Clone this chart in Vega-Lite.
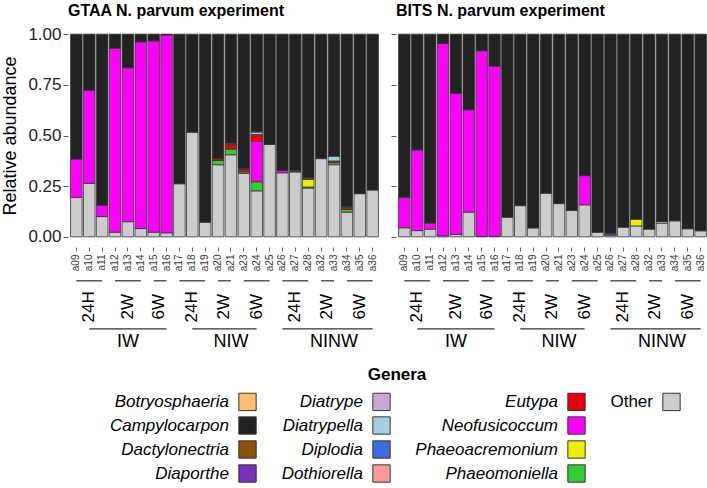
{
  "$schema": "https://vega.github.io/schema/vega-lite/v6.json",
  "padding": {"left": 1, "top": 3, "right": 0, "bottom": 0},
  "bounds": "flush",
  "spacing": 15,
  "datasets": {
    "bars": [
      {"exp":"GTAA","sample":"a09","genus":"Other","value":0.195},{"exp":"GTAA","sample":"a09","genus":"Neofusicoccum","value":0.189},{"exp":"GTAA","sample":"a09","genus":"Campylocarpon","value":0.616},
      {"exp":"GTAA","sample":"a10","genus":"Other","value":0.264},{"exp":"GTAA","sample":"a10","genus":"Neofusicoccum","value":0.46},{"exp":"GTAA","sample":"a10","genus":"Campylocarpon","value":0.276},
      {"exp":"GTAA","sample":"a11","genus":"Other","value":0.1},{"exp":"GTAA","sample":"a11","genus":"Neofusicoccum","value":0.056},{"exp":"GTAA","sample":"a11","genus":"Campylocarpon","value":0.844},
      {"exp":"GTAA","sample":"a12","genus":"Other","value":0.023},{"exp":"GTAA","sample":"a12","genus":"Neofusicoccum","value":0.907},{"exp":"GTAA","sample":"a12","genus":"Campylocarpon","value":0.07},
      {"exp":"GTAA","sample":"a13","genus":"Other","value":0.075},{"exp":"GTAA","sample":"a13","genus":"Neofusicoccum","value":0.759},{"exp":"GTAA","sample":"a13","genus":"Campylocarpon","value":0.166},
      {"exp":"GTAA","sample":"a14","genus":"Other","value":0.041},{"exp":"GTAA","sample":"a14","genus":"Neofusicoccum","value":0.921},{"exp":"GTAA","sample":"a14","genus":"Campylocarpon","value":0.038},
      {"exp":"GTAA","sample":"a15","genus":"Other","value":0.023},{"exp":"GTAA","sample":"a15","genus":"Neofusicoccum","value":0.944},{"exp":"GTAA","sample":"a15","genus":"Campylocarpon","value":0.033},
      {"exp":"GTAA","sample":"a16","genus":"Other","value":0.02},{"exp":"GTAA","sample":"a16","genus":"Neofusicoccum","value":0.975},{"exp":"GTAA","sample":"a16","genus":"Campylocarpon","value":0.005},
      {"exp":"GTAA","sample":"a17","genus":"Other","value":0.262},{"exp":"GTAA","sample":"a17","genus":"Campylocarpon","value":0.738},
      {"exp":"GTAA","sample":"a18","genus":"Other","value":0.516},{"exp":"GTAA","sample":"a18","genus":"Campylocarpon","value":0.484},
      {"exp":"GTAA","sample":"a19","genus":"Other","value":0.072},{"exp":"GTAA","sample":"a19","genus":"Campylocarpon","value":0.928},
      {"exp":"GTAA","sample":"a20","genus":"Other","value":0.356},{"exp":"GTAA","sample":"a20","genus":"Phaeomoniella","value":0.021},{"exp":"GTAA","sample":"a20","genus":"Eutypa","value":0.01},{"exp":"GTAA","sample":"a20","genus":"Campylocarpon","value":0.613},
      {"exp":"GTAA","sample":"a21","genus":"Other","value":0.405},{"exp":"GTAA","sample":"a21","genus":"Phaeomoniella","value":0.028},{"exp":"GTAA","sample":"a21","genus":"Eutypa","value":0.022},{"exp":"GTAA","sample":"a21","genus":"Dactylonectria","value":0.008},{"exp":"GTAA","sample":"a21","genus":"Campylocarpon","value":0.537},
      {"exp":"GTAA","sample":"a23","genus":"Other","value":0.313},{"exp":"GTAA","sample":"a23","genus":"Phaeomoniella","value":0.008},{"exp":"GTAA","sample":"a23","genus":"Eutypa","value":0.012},{"exp":"GTAA","sample":"a23","genus":"Dactylonectria","value":0.005},{"exp":"GTAA","sample":"a23","genus":"Campylocarpon","value":0.662},
      {"exp":"GTAA","sample":"a24","genus":"Other","value":0.227},{"exp":"GTAA","sample":"a24","genus":"Phaeomoniella","value":0.045},{"exp":"GTAA","sample":"a24","genus":"Neofusicoccum","value":0.199},{"exp":"GTAA","sample":"a24","genus":"Eutypa","value":0.034},{"exp":"GTAA","sample":"a24","genus":"Diatrypella","value":0.012},{"exp":"GTAA","sample":"a24","genus":"Dactylonectria","value":0.004},{"exp":"GTAA","sample":"a24","genus":"Campylocarpon","value":0.479},
      {"exp":"GTAA","sample":"a25","genus":"Other","value":0.456},{"exp":"GTAA","sample":"a25","genus":"Campylocarpon","value":0.544},
      {"exp":"GTAA","sample":"a26","genus":"Other","value":0.316},{"exp":"GTAA","sample":"a26","genus":"Neofusicoccum","value":0.012},{"exp":"GTAA","sample":"a26","genus":"Campylocarpon","value":0.672},
      {"exp":"GTAA","sample":"a27","genus":"Other","value":0.32},{"exp":"GTAA","sample":"a27","genus":"Dactylonectria","value":0.006},{"exp":"GTAA","sample":"a27","genus":"Campylocarpon","value":0.674},
      {"exp":"GTAA","sample":"a28","genus":"Other","value":0.241},{"exp":"GTAA","sample":"a28","genus":"Phaeomoniella","value":0.005},{"exp":"GTAA","sample":"a28","genus":"Phaeoacremonium","value":0.037},{"exp":"GTAA","sample":"a28","genus":"Dactylonectria","value":0.008},{"exp":"GTAA","sample":"a28","genus":"Campylocarpon","value":0.709},
      {"exp":"GTAA","sample":"a32","genus":"Other","value":0.386},{"exp":"GTAA","sample":"a32","genus":"Campylocarpon","value":0.614},
      {"exp":"GTAA","sample":"a33","genus":"Other","value":0.356},{"exp":"GTAA","sample":"a33","genus":"Phaeomoniella","value":0.01},{"exp":"GTAA","sample":"a33","genus":"Eutypa","value":0.008},{"exp":"GTAA","sample":"a33","genus":"Diatrypella","value":0.024},{"exp":"GTAA","sample":"a33","genus":"Campylocarpon","value":0.602},
      {"exp":"GTAA","sample":"a34","genus":"Other","value":0.122},{"exp":"GTAA","sample":"a34","genus":"Phaeomoniella","value":0.014},{"exp":"GTAA","sample":"a34","genus":"Eutypa","value":0.01},{"exp":"GTAA","sample":"a34","genus":"Dactylonectria","value":0.005},{"exp":"GTAA","sample":"a34","genus":"Campylocarpon","value":0.849},
      {"exp":"GTAA","sample":"a35","genus":"Other","value":0.213},{"exp":"GTAA","sample":"a35","genus":"Campylocarpon","value":0.787},
      {"exp":"GTAA","sample":"a36","genus":"Other","value":0.231},{"exp":"GTAA","sample":"a36","genus":"Campylocarpon","value":0.769},

      {"exp":"BITS","sample":"a09","genus":"Other","value":0.045},{"exp":"BITS","sample":"a09","genus":"Neofusicoccum","value":0.15},{"exp":"BITS","sample":"a09","genus":"Campylocarpon","value":0.805},
      {"exp":"BITS","sample":"a10","genus":"Other","value":0.031},{"exp":"BITS","sample":"a10","genus":"Neofusicoccum","value":0.398},{"exp":"BITS","sample":"a10","genus":"Campylocarpon","value":0.571},
      {"exp":"BITS","sample":"a11","genus":"Other","value":0.038},{"exp":"BITS","sample":"a11","genus":"Neofusicoccum","value":0.03},{"exp":"BITS","sample":"a11","genus":"Campylocarpon","value":0.932},
      {"exp":"BITS","sample":"a12","genus":"Other","value":0.005},{"exp":"BITS","sample":"a12","genus":"Neofusicoccum","value":0.949},{"exp":"BITS","sample":"a12","genus":"Campylocarpon","value":0.046},
      {"exp":"BITS","sample":"a13","genus":"Other","value":0.012},{"exp":"BITS","sample":"a13","genus":"Neofusicoccum","value":0.696},{"exp":"BITS","sample":"a13","genus":"Campylocarpon","value":0.292},
      {"exp":"BITS","sample":"a14","genus":"Other","value":0.122},{"exp":"BITS","sample":"a14","genus":"Neofusicoccum","value":0.505},{"exp":"BITS","sample":"a14","genus":"Campylocarpon","value":0.373},
      {"exp":"BITS","sample":"a15","genus":"Other","value":0.002},{"exp":"BITS","sample":"a15","genus":"Neofusicoccum","value":0.916},{"exp":"BITS","sample":"a15","genus":"Campylocarpon","value":0.082},
      {"exp":"BITS","sample":"a16","genus":"Other","value":0.002},{"exp":"BITS","sample":"a16","genus":"Neofusicoccum","value":0.84},{"exp":"BITS","sample":"a16","genus":"Campylocarpon","value":0.158},
      {"exp":"BITS","sample":"a17","genus":"Other","value":0.097},{"exp":"BITS","sample":"a17","genus":"Campylocarpon","value":0.903},
      {"exp":"BITS","sample":"a18","genus":"Other","value":0.154},{"exp":"BITS","sample":"a18","genus":"Campylocarpon","value":0.846},
      {"exp":"BITS","sample":"a19","genus":"Other","value":0.044},{"exp":"BITS","sample":"a19","genus":"Campylocarpon","value":0.956},
      {"exp":"BITS","sample":"a20","genus":"Other","value":0.215},{"exp":"BITS","sample":"a20","genus":"Campylocarpon","value":0.785},
      {"exp":"BITS","sample":"a21","genus":"Other","value":0.164},{"exp":"BITS","sample":"a21","genus":"Campylocarpon","value":0.836},
      {"exp":"BITS","sample":"a23","genus":"Other","value":0.13},{"exp":"BITS","sample":"a23","genus":"Campylocarpon","value":0.87},
      {"exp":"BITS","sample":"a24","genus":"Other","value":0.158},{"exp":"BITS","sample":"a24","genus":"Neofusicoccum","value":0.144},{"exp":"BITS","sample":"a24","genus":"Campylocarpon","value":0.698},
      {"exp":"BITS","sample":"a25","genus":"Other","value":0.023},{"exp":"BITS","sample":"a25","genus":"Campylocarpon","value":0.977},
      {"exp":"BITS","sample":"a26","genus":"Other","value":0.008},{"exp":"BITS","sample":"a26","genus":"Diaporthe","value":0.01},{"exp":"BITS","sample":"a26","genus":"Campylocarpon","value":0.982},
      {"exp":"BITS","sample":"a27","genus":"Other","value":0.048},{"exp":"BITS","sample":"a27","genus":"Campylocarpon","value":0.952},
      {"exp":"BITS","sample":"a28","genus":"Other","value":0.054},{"exp":"BITS","sample":"a28","genus":"Phaeoacremonium","value":0.033},{"exp":"BITS","sample":"a28","genus":"Campylocarpon","value":0.913},
      {"exp":"BITS","sample":"a32","genus":"Other","value":0.038},{"exp":"BITS","sample":"a32","genus":"Campylocarpon","value":0.962},
      {"exp":"BITS","sample":"a33","genus":"Other","value":0.068},{"exp":"BITS","sample":"a33","genus":"Diatrypella","value":0.008},{"exp":"BITS","sample":"a33","genus":"Campylocarpon","value":0.924},
      {"exp":"BITS","sample":"a34","genus":"Other","value":0.079},{"exp":"BITS","sample":"a34","genus":"Campylocarpon","value":0.921},
      {"exp":"BITS","sample":"a35","genus":"Other","value":0.04},{"exp":"BITS","sample":"a35","genus":"Campylocarpon","value":0.96},
      {"exp":"BITS","sample":"a36","genus":"Other","value":0.03},{"exp":"BITS","sample":"a36","genus":"Campylocarpon","value":0.97}
    ],
    "times": [
      {"treat":"IW","time":"24H","first":"a09","last":"a11","mid":"a10","n":3},
      {"treat":"IW","time":"2W","first":"a12","last":"a14","mid":"a13","n":3},
      {"treat":"IW","time":"6W","first":"a15","last":"a16","mid":"a15","n":2},
      {"treat":"NIW","time":"24H","first":"a17","last":"a19","mid":"a18","n":3},
      {"treat":"NIW","time":"2W","first":"a20","last":"a21","mid":"a20","n":2},
      {"treat":"NIW","time":"6W","first":"a23","last":"a25","mid":"a24","n":3},
      {"treat":"NINW","time":"24H","first":"a26","last":"a28","mid":"a27","n":3},
      {"treat":"NINW","time":"2W","first":"a32","last":"a33","mid":"a32","n":2},
      {"treat":"NINW","time":"6W","first":"a34","last":"a36","mid":"a35","n":3}
    ],
    "treats": [
      {"treat":"IW","start":"a10","end":"a16","mid":"a13"},
      {"treat":"NIW","start":"a18","end":"a24","mid":"a21"},
      {"treat":"NINW","start":"a26","end":"a36","mid":"a33"}
    ]
  },
  "hconcat": [
    {
      "width": 313,
      "height": 223,
      "title": {"text": "GTAA N. parvum experiment", "anchor": "start", "frame": "group", "font": "Liberation Sans", "fontSize": 16, "fontWeight": "bold", "color": "#000000", "baseline": "bottom", "offset": -11},
      "resolve": {"axis": {"x": "independent", "y": "independent"}},
      "layer": [
        {
          "data": {"name": "bars"},
          "transform": [
            {"filter": "datum.exp === 'GTAA'"},
            {"calculate": "indexof(['Other','Phaeomoniella','Phaeoacremonium','Neofusicoccum','Eutypa','Dothiorella','Diplodia','Diatrypella','Diatrype','Diaporthe','Dactylonectria','Campylocarpon','Botryosphaeria'], datum.genus)", "as": "rank"}
          ],
          "mark": {"type": "bar", "stroke": "#333333", "strokeWidth": 0.8},
          "encoding": {
            "x": {"field": "sample", "type": "nominal",
                  "scale": {"domain": ["a09","a10","a11","a12","a13","a14","a15","a16","a17","a18","a19","a20","a21","a23","a24","a25","a26","a27","a28","a32","a33","a34","a35","a36"], "paddingInner": 0.1, "paddingOuter": 0.2},
                  "axis": {"title": null, "labelAngle": -90, "labelFontSize": 10, "labelFont": "Liberation Sans", "labelColor": "#3a3a3a", "tickSize": 4, "tickColor": "#666666", "domain": false, "labelPadding": 3}},
            "y": {"field": "value", "type": "quantitative", "stack": "zero",
                  "scale": {"domain": [-0.05, 1.05], "nice": false, "zero": false},
                  "axis": {"title": "Relative abundance", "titleFont": "Liberation Sans", "titleFontSize": 18, "titleFontWeight": "normal", "titleColor": "#000000", "titlePadding": 8,
                           "values": [0, 0.25, 0.5, 0.75, 1], "format": ".2f", "labelFont": "Liberation Sans", "labelFontSize": 17, "labelColor": "#222222",
                           "tickSize": 5, "tickColor": "#555555", "labelPadding": 2, "domain": false, "grid": false}},
            "color": {"field": "genus", "type": "nominal",
                      "scale": {"domain": ["Botryosphaeria","Campylocarpon","Dactylonectria","Diaporthe","Diatrype","Diatrypella","Diplodia","Dothiorella","Eutypa","Neofusicoccum","Phaeoacremonium","Phaeomoniella","Other"," ","  ","   "],
                                "range": ["#fdbf6f","#222222","#8c510a","#7b2fbe","#c9a8d4","#a6cee3","#4169e1","#fb9a99","#e8000b","#ff00ff","#eeee00","#33cc33","#cccccc","transparent","transparent","transparent"]},
                      "legend": {"title": "Genera", "orient": "none", "legendX": 170, "legendY": 343, "direction": "vertical", "columns": 4,
                                 "encode": {"labels": {"update": {"x": {"value": -9}, "align": {"value": "right"}, "fontStyle": {"signal": "datum.value === 'Other' ? 'normal' : 'italic'"}}},
                                            "symbols": {"update": {"strokeOpacity": {"signal": "trim(datum.value) === '' ? 0 : 1"}}},
                                            "title": {"update": {"dx": {"value": -63}}}}}},
            "order": {"field": "rank", "type": "quantitative", "sort": "ascending"}
          }
        },
        {
          "data": {"name": "times"},
          "mark": {"type": "rule", "color": "#000000", "strokeWidth": 1},
          "encoding": {
            "x": {"field": "first", "type": "nominal", "axis": null},
            "x2": {"field": "last"},
            "y": {"datum": -0.217, "type": "quantitative", "axis": null}
          }
        },
        {
          "data": {"name": "times"},
          "transform": [{"filter": "datum.n === 3"}],
          "mark": {"type": "text", "angle": 270, "align": "center", "baseline": "middle", "font": "Liberation Sans", "fontSize": 17, "color": "#000000"},
          "encoding": {
            "x": {"field": "mid", "type": "nominal", "axis": null},
            "y": {"datum": -0.345, "type": "quantitative", "axis": null},
            "text": {"field": "time"}
          }
        },
        {
          "data": {"name": "times"},
          "transform": [{"filter": "datum.n === 2"}],
          "mark": {"type": "text", "angle": 270, "align": "center", "baseline": "middle", "font": "Liberation Sans", "fontSize": 17, "color": "#000000"},
          "encoding": {
            "x": {"field": "mid", "type": "nominal", "bandPosition": 1, "axis": null},
            "y": {"datum": -0.345, "type": "quantitative", "axis": null},
            "text": {"field": "time"}
          }
        },
        {
          "data": {"name": "treats"},
          "mark": {"type": "rule", "color": "#000000", "strokeWidth": 1},
          "encoding": {
            "x": {"field": "start", "type": "nominal", "axis": null},
            "x2": {"field": "end"},
            "y": {"datum": -0.454, "type": "quantitative", "axis": null}
          }
        },
        {
          "data": {"name": "treats"},
          "mark": {"type": "text", "align": "center", "baseline": "middle", "font": "Liberation Sans", "fontSize": 18, "color": "#000000"},
          "encoding": {
            "x": {"field": "mid", "type": "nominal", "axis": null},
            "y": {"datum": -0.52, "type": "quantitative", "axis": null},
            "text": {"field": "treat"}
          }
        }
      ]
    },
    {
      "width": 313,
      "height": 223,
      "title": {"text": "BITS N. parvum experiment", "anchor": "start", "frame": "group", "font": "Liberation Sans", "fontSize": 16, "fontWeight": "bold", "color": "#000000", "baseline": "bottom", "offset": -11},
      "resolve": {"axis": {"x": "independent", "y": "independent"}},
      "layer": [
        {
          "data": {"name": "bars"},
          "transform": [
            {"filter": "datum.exp === 'BITS'"},
            {"calculate": "indexof(['Other','Phaeomoniella','Phaeoacremonium','Neofusicoccum','Eutypa','Dothiorella','Diplodia','Diatrypella','Diatrype','Diaporthe','Dactylonectria','Campylocarpon','Botryosphaeria'], datum.genus)", "as": "rank"}
          ],
          "mark": {"type": "bar", "stroke": "#333333", "strokeWidth": 0.8},
          "encoding": {
            "x": {"field": "sample", "type": "nominal",
                  "scale": {"domain": ["a09","a10","a11","a12","a13","a14","a15","a16","a17","a18","a19","a20","a21","a23","a24","a25","a26","a27","a28","a32","a33","a34","a35","a36"], "paddingInner": 0.1, "paddingOuter": 0.2},
                  "axis": {"title": null, "labelAngle": -90, "labelFontSize": 10, "labelFont": "Liberation Sans", "labelColor": "#3a3a3a", "tickSize": 4, "tickColor": "#666666", "domain": false, "labelPadding": 3}},
            "y": {"field": "value", "type": "quantitative", "stack": "zero",
                  "scale": {"domain": [-0.05, 1.05], "nice": false, "zero": false},
                  "axis": {"title": null, "labels": false, "values": [0, 0.25, 0.5, 0.75, 1], "tickSize": 5, "tickColor": "#555555", "domain": false, "grid": false}},
            "color": {"field": "genus", "type": "nominal",
                      "scale": {"domain": ["Botryosphaeria","Campylocarpon","Dactylonectria","Diaporthe","Diatrype","Diatrypella","Diplodia","Dothiorella","Eutypa","Neofusicoccum","Phaeoacremonium","Phaeomoniella","Other"," ","  ","   "],
                                "range": ["#fdbf6f","#222222","#8c510a","#7b2fbe","#c9a8d4","#a6cee3","#4169e1","#fb9a99","#e8000b","#ff00ff","#eeee00","#33cc33","#cccccc","transparent","transparent","transparent"]},
                      "legend": {"title": "Genera", "orient": "none", "legendX": 170, "legendY": 343, "direction": "vertical", "columns": 4,
                                 "encode": {"labels": {"update": {"x": {"value": -9}, "align": {"value": "right"}, "fontStyle": {"signal": "datum.value === 'Other' ? 'normal' : 'italic'"}}},
                                            "symbols": {"update": {"strokeOpacity": {"signal": "trim(datum.value) === '' ? 0 : 1"}}},
                                            "title": {"update": {"dx": {"value": -63}}}}}},
            "order": {"field": "rank", "type": "quantitative", "sort": "ascending"}
          }
        },
        {
          "data": {"name": "times"},
          "mark": {"type": "rule", "color": "#000000", "strokeWidth": 1},
          "encoding": {
            "x": {"field": "first", "type": "nominal", "axis": null},
            "x2": {"field": "last"},
            "y": {"datum": -0.217, "type": "quantitative", "axis": null}
          }
        },
        {
          "data": {"name": "times"},
          "transform": [{"filter": "datum.n === 3"}],
          "mark": {"type": "text", "angle": 270, "align": "center", "baseline": "middle", "font": "Liberation Sans", "fontSize": 17, "color": "#000000"},
          "encoding": {
            "x": {"field": "mid", "type": "nominal", "axis": null},
            "y": {"datum": -0.345, "type": "quantitative", "axis": null},
            "text": {"field": "time"}
          }
        },
        {
          "data": {"name": "times"},
          "transform": [{"filter": "datum.n === 2"}],
          "mark": {"type": "text", "angle": 270, "align": "center", "baseline": "middle", "font": "Liberation Sans", "fontSize": 17, "color": "#000000"},
          "encoding": {
            "x": {"field": "mid", "type": "nominal", "bandPosition": 1, "axis": null},
            "y": {"datum": -0.345, "type": "quantitative", "axis": null},
            "text": {"field": "time"}
          }
        },
        {
          "data": {"name": "treats"},
          "mark": {"type": "rule", "color": "#000000", "strokeWidth": 1},
          "encoding": {
            "x": {"field": "start", "type": "nominal", "axis": null},
            "x2": {"field": "end"},
            "y": {"datum": -0.454, "type": "quantitative", "axis": null}
          }
        },
        {
          "data": {"name": "treats"},
          "mark": {"type": "text", "align": "center", "baseline": "middle", "font": "Liberation Sans", "fontSize": 18, "color": "#000000"},
          "encoding": {
            "x": {"field": "mid", "type": "nominal", "axis": null},
            "y": {"datum": -0.52, "type": "quantitative", "axis": null},
            "text": {"field": "treat"}
          }
        }
      ]
    }
  ],
  "config": {
    "view": {"stroke": null},
    "font": "Liberation Sans",
    "legend": {
      "titleFont": "Liberation Sans", "titleFontSize": 17, "titleFontWeight": "bold", "titleColor": "#000000",
      "titleAnchor": "middle", "titleAlign": "center", "titlePadding": 8,
      "labelFont": "Liberation Sans", "labelFontSize": 17, "labelFontStyle": "italic", "labelColor": "#000000", "labelLimit": 300,
      "symbolType": "square", "symbolSize": 300, "symbolStrokeColor": "#333333", "symbolStrokeWidth": 1, "symbolOpacity": 1,
      "columnPadding": 22, "rowPadding": 1
    }
  }
}
